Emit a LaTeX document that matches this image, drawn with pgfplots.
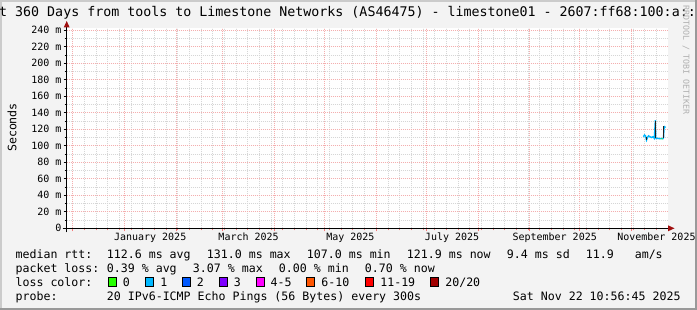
\documentclass[border=0pt]{standalone}
\usepackage{pgfplots}
\pgfplotsset{compat=1.18}
\usepackage{fontspec}
\setmainfont{DejaVu Sans Mono}
\definecolor{bg}{HTML}{F3F3F3}
\definecolor{shadea}{HTML}{CBCBCB}
\definecolor{shadeb}{HTML}{999999}
\definecolor{mgrid}{HTML}{F4AFAF}
\definecolor{mingrid}{HTML}{D6D6D6}
\definecolor{arrowc}{HTML}{A01010}
\definecolor{wm}{HTML}{B0B0B0}
\definecolor{lA}{HTML}{26FF00}
\definecolor{lB}{HTML}{00B8FF}
\definecolor{lC}{HTML}{0059FF}
\definecolor{lD}{HTML}{7E00FF}
\definecolor{lE}{HTML}{FF00FF}
\definecolor{lF}{HTML}{FF5500}
\definecolor{lG}{HTML}{FF0000}
\definecolor{lH}{HTML}{A10000}
\definecolor{smoke}{HTML}{202020}
\newcommand{\lgfont}{\fontsize{11.6bp}{13bp}\selectfont}
\newcommand{\axfont}{\fontsize{10bp}{12bp}\selectfont}
\newcommand{\ttlfont}{\fontsize{13.3bp}{15bp}\selectfont}
\newcommand{\wmfont}{\fontsize{8.3bp}{10bp}\selectfont}
\begin{document}
\begin{tikzpicture}
\useasboundingbox (0,0) rectangle (697bp,310bp);
\clip (0,0) rectangle (697bp,310bp);
\fill[bg] (0,0) rectangle (697bp,310bp);
\fill[shadea] (0,308bp) rectangle (697bp,310bp);
\fill[shadea] (0,0) rectangle (2bp,310bp);
\fill[shadeb] (0,0) rectangle (697bp,2bp);
\fill[shadeb] (695bp,0) rectangle (697bp,310bp);
\fill[white] (66.7bp,81.7bp) rectangle (668bp,281.7bp);
\begin{axis}[
  at={(66.7bp,81.7bp)}, anchor=south west,
  scale only axis, width=600.5bp, height=200bp,
  xmin=0, xmax=360, ymin=0, ymax=242.4,
  axis line style={draw=none},
  xtick={3.54,34.54,65.54,93.54,124.54,154.54,185.54,215.54,246.54,277.54,307.54,338.54},
  xticklabels={,,,,,,,,,,,},
  minor xtick={10.54,17.54,24.54,31.54,38.54,45.54,52.54,59.54,66.54,73.54,80.54,87.54,94.54,101.54,108.54,115.54,122.54,129.54,136.54,143.54,150.54,157.54,164.54,171.54,178.54,192.54,199.54,206.54,213.54,220.54,227.54,234.54,241.54,248.54,255.54,262.54,269.54,276.54,283.54,290.54,297.54,304.54,311.54,318.54,325.54,332.54,339.54,346.54,353.54},
  extra x ticks={50.04,109.04,170.04,231.04,292.54,353.54},
  extra x tick labels={January 2025,March 2025,May 2025,July 2025,September 2025,November 2025},
  extra x tick style={grid=none, major tick length=0pt},
  ytick={0,20,...,240},
  yticklabels={0,20 m,40 m,60 m,80 m,100 m,120 m,140 m,160 m,180 m,200 m,220 m,240 m},
  minor ytick={10,30,...,230},
  grid=both,
  major grid style={mgrid, dash pattern=on 1bp off 1bp, line width=0.7bp},
  minor grid style={mingrid, dash pattern=on 1bp off 1bp, line width=0.7bp},
  xtick pos=bottom, ytick pos=left,
  tick align=outside,
  major tick length=3bp, minor tick length=2bp,
  xtick style={mgrid!70!red, line width=0.7bp},
  ytick style={black, line width=0.7bp},
  minor tick style={mingrid},
  xticklabel style={font=\axfont, anchor=base, inner sep=0pt, yshift=-12.5bp},
  yticklabel style={font=\axfont, anchor=east, inner sep=0pt, xshift=-2bp},
  clip=false,
]
% median line (loss colour 1)
\addplot[lB, line width=1.4bp] coordinates {
 (345.7,111) (346.4,113) (347.0,112) (347.6,107) (348.2,110) (348.8,112)
 (349.7,111) (350.6,110) (351.5,111) (352.3,109) (352.9,131) (353.1,110)
 (353.5,109) (354.5,109) (355.7,108.5) (356.6,109)};
\addplot[lA, line width=1.4bp] coordinates {(356.6,109) (357.2,108)};
\addplot[lB, line width=1.4bp] coordinates {
 (357.2,108) (357.8,110) (358.1,121) (358.5,123) (359.0,122)};
% smoke
\addplot[smoke, line width=1.2bp] coordinates {(347.6,107) (347.6,111)};
\addplot[smoke, line width=1.2bp] coordinates {(352.95,109) (352.95,130.5)};
\addplot[smoke, line width=1.2bp] coordinates {(357.95,109) (357.95,123.5)};
\end{axis}
% axes and arrows
\draw[black, line width=1bp] (62.7bp,81.7bp) -- (668bp,81.7bp);
\draw[black, line width=1bp] (66.7bp,77.7bp) -- (66.7bp,282.5bp);
\fill[arrowc] (668bp,78.7bp) -- (674.5bp,81.7bp) -- (668bp,84.7bp) -- cycle;
\fill[arrowc] (63.7bp,282.5bp) -- (66.7bp,289bp) -- (69.7bp,282.5bp) -- cycle;
% title
\node[anchor=base west, inner sep=0pt, font=\ttlfont] at (-1bp,293bp)
  {t 360 Days from tools to Limestone Networks (AS46475) - limestone01 - 2607:ff68:100:a::};
% y label
\node[rotate=90, inner sep=0pt, font=\lgfont] at (12bp,182.5bp) {Seconds};
% watermark
\node[rotate=-90, anchor=center, inner sep=0pt, font=\wmfont, text=wm] at (686bp,250bp) {RRDTOOL / TOBI OETIKER};
% legend rows
\begin{scope}[every node/.style={anchor=base west, inner sep=0pt, font=\lgfont}]
\node at (15.4bp,51.5bp) {median rtt:};
\node at (106.7bp,51.5bp) {112.6 ms avg};
\node at (206.7bp,51.5bp) {131.0 ms max};
\node at (306.7bp,51.5bp) {107.0 ms min};
\node at (406.7bp,51.5bp) {121.9 ms now};
\node at (506.7bp,51.5bp) {9.4 ms sd};
\node at (585.7bp,51.5bp) {11.9\ \ \ am/s};
\node at (15.4bp,37.5bp) {packet loss:};
\node at (106.7bp,37.5bp) {0.39 \% avg};
\node at (192.7bp,37.5bp) {3.07 \% max};
\node at (278.7bp,37.5bp) {0.00 \% min};
\node at (364.7bp,37.5bp) {0.70 \% now};
\node at (15.4bp,23.5bp) {loss color:};
\node at (122.7bp,23.5bp) {0};
\node at (160.1bp,23.5bp) {1};
\node at (196.7bp,23.5bp) {2};
\node at (233.7bp,23.5bp) {3};
\node at (270.4bp,23.5bp) {4-5};
\node at (321.1bp,23.5bp) {6-10};
\node at (380.1bp,23.5bp) {11-19};
\node at (445.1bp,23.5bp) {20/20};
\node at (15.4bp,9.7bp) {probe:};
\node at (106.7bp,9.7bp) {20 IPv6-ICMP Echo Pings (56 Bytes) every 300s};
\node at (512.7bp,9.7bp) {Sat Nov 22 10:56:45 2025};
\end{scope}
\begin{scope}[line width=1bp]
\filldraw[fill=lA, draw=black] (108.3bp,23.8bp) rectangle (116.3bp,32.3bp);
\filldraw[fill=lB, draw=black] (145.7bp,23.8bp) rectangle (153.7bp,32.3bp);
\filldraw[fill=lC, draw=black] (182.7bp,23.8bp) rectangle (190.7bp,32.3bp);
\filldraw[fill=lD, draw=black] (219.3bp,23.8bp) rectangle (227.3bp,32.3bp);
\filldraw[fill=lE, draw=black] (256.7bp,23.8bp) rectangle (264.7bp,32.3bp);
\filldraw[fill=lF, draw=black] (306.7bp,23.8bp) rectangle (314.7bp,32.3bp);
\filldraw[fill=lG, draw=black] (365.7bp,23.8bp) rectangle (373.7bp,32.3bp);
\filldraw[fill=lH, draw=black] (430.7bp,23.8bp) rectangle (438.7bp,32.3bp);
\end{scope}
\end{tikzpicture}
\end{document}
